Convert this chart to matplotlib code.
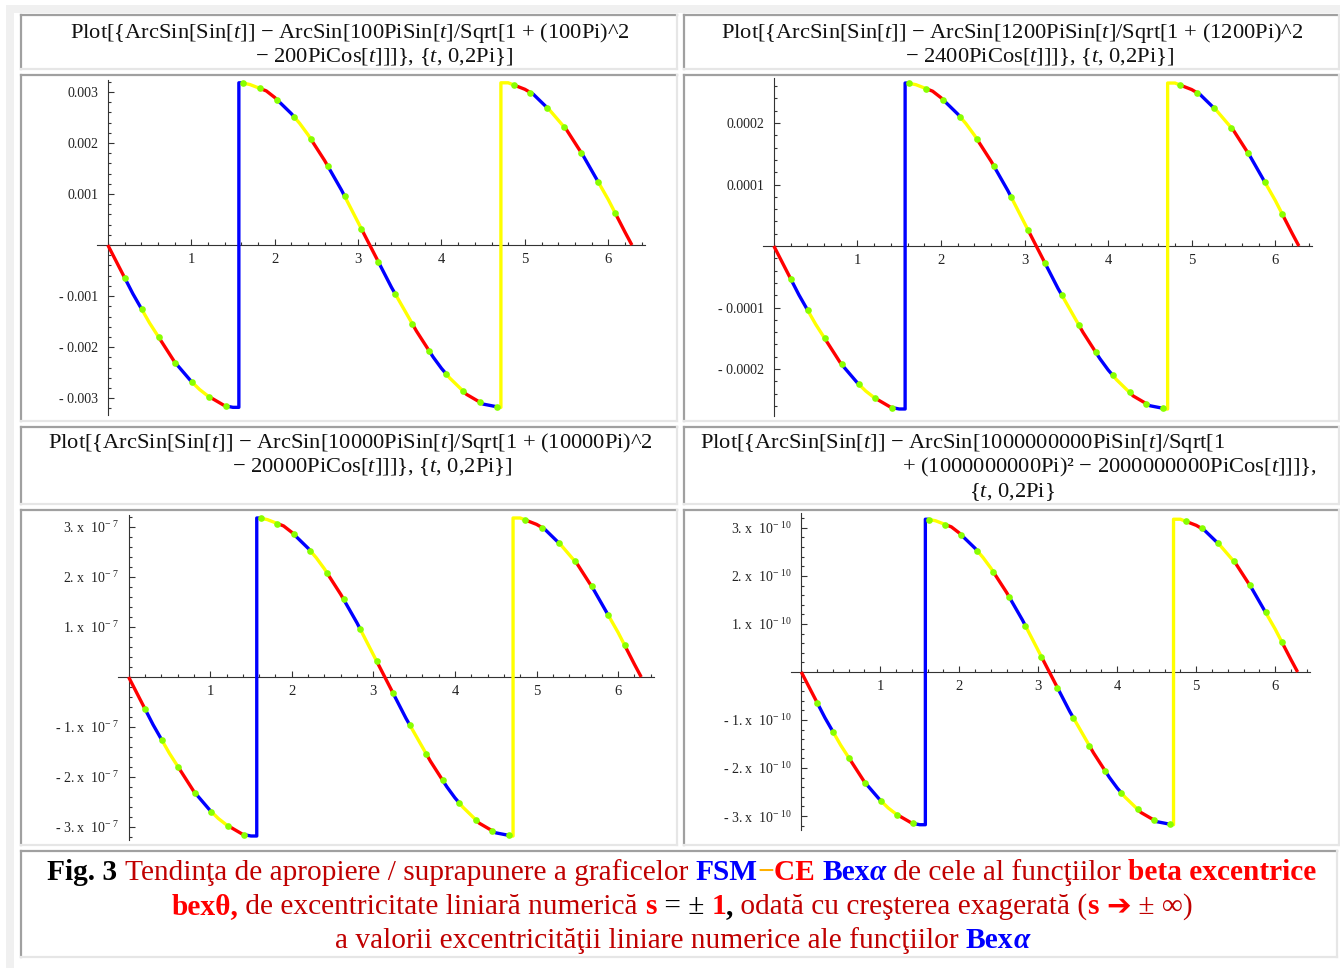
import numpy as np
import matplotlib.pyplot as plt
from matplotlib.patches import Rectangle
from matplotlib.lines import Line2D
from matplotlib.font_manager import FontProperties
from matplotlib.ticker import FixedLocator, FixedFormatter, MultipleLocator

plt.rcParams['mathtext.fontset'] = 'custom'
plt.rcParams['mathtext.rm'] = 'Liberation Serif'
plt.rcParams['mathtext.it'] = 'Liberation Serif:italic'
plt.rcParams['mathtext.bf'] = 'Liberation Serif:bold'
plt.rcParams['mathtext.default'] = 'rm'

# curve (t, value in units of the peak height)
t_vals = [0.0, 0.1, 0.2, 0.3, 0.4, 0.5, 0.6, 0.7, 0.8, 0.9, 1.0, 1.1, 1.2, 1.3, 1.4, 1.5, 1.5708,
          1.5708, 1.6, 1.7, 1.8, 1.9, 2.0, 2.1, 2.2, 2.3, 2.4, 2.5, 2.6, 2.7, 2.8, 2.9, 3.0, 3.1,
          3.2, 3.3, 3.4, 3.5, 3.6, 3.7, 3.8, 3.9, 4.0, 4.1, 4.2, 4.3, 4.4, 4.5, 4.6, 4.7, 4.7124,
          4.7124, 4.8, 4.9, 5.0, 5.1, 5.2, 5.3, 5.4, 5.5, 5.6, 5.7, 5.8, 5.9, 6.0, 6.1, 6.2, 6.2832]
shape = [0.0, -0.10, -0.20, -0.30, -0.39, -0.48, -0.56, -0.64, -0.72, -0.78, -0.84, -0.89, -0.93,
         -0.96, -0.99, -1.00, -1.00,
         1.00, 1.00, 0.99, 0.97, 0.95, 0.91, 0.86, 0.81, 0.75, 0.68, 0.60, 0.52, 0.43, 0.34, 0.24,
         0.14, 0.04, -0.06, -0.16, -0.26, -0.35, -0.44, -0.53, -0.61, -0.69, -0.76, -0.82, -0.87,
         -0.92, -0.95, -0.98, -0.99, -1.00, -1.00,
         1.00, 1.00, 0.98, 0.96, 0.93, 0.88, 0.83, 0.77, 0.71, 0.63, 0.55, 0.46, 0.37, 0.28, 0.18,
         0.08, 0.0]

# peak height of each panel
amplitudes = [0.00318, 0.000265, 3.18e-7, 3.18e-10]

xticks = [1, 2, 3, 4, 5, 6]
xtick_labels = ['1', '2', '3', '4', '5', '6']

yticks = [
    [-0.003, -0.002, -0.001, 0.001, 0.002, 0.003],
    [-0.0002, -0.0001, 0.0001, 0.0002],
    [-3e-7, -2e-7, -1e-7, 1e-7, 2e-7, 3e-7],
    [-3e-10, -2e-10, -1e-10, 1e-10, 2e-10, 3e-10],
]
ytick_labels = [
    ['- 0.003', '- 0.002', '- 0.001', '0.001', '0.002', '0.003'],
    ['- 0.0002', '- 0.0001', '0.0001', '0.0002'],
    ['- 3. x  10$^{-\\ 7}$', '- 2. x  10$^{-\\ 7}$', '- 1. x  10$^{-\\ 7}$',
     '1. x  10$^{-\\ 7}$', '2. x  10$^{-\\ 7}$', '3. x  10$^{-\\ 7}$'],
    ['- 3. x  10$^{-\\ 10}$', '- 2. x  10$^{-\\ 10}$', '- 1. x  10$^{-\\ 10}$',
     '1. x  10$^{-\\ 10}$', '2. x  10$^{-\\ 10}$', '3. x  10$^{-\\ 10}$'],
]

T = '$\\mathit{t}$'
titles = [
    ['Plot[{ArcSin[Sin[' + T + ']] − ArcSin[100PiSin[' + T + ']/Sqrt[1 + (100Pi)^2',
     '− 200PiCos[' + T + ']]]}, {' + T + ', 0,2Pi}]'],
    ['Plot[{ArcSin[Sin[' + T + ']] − ArcSin[1200PiSin[' + T + ']/Sqrt[1 + (1200Pi)^2',
     '− 2400PiCos[' + T + ']]]}, {' + T + ', 0,2Pi}]'],
    ['Plot[{ArcSin[Sin[' + T + ']] − ArcSin[10000PiSin[' + T + ']/Sqrt[1 + (10000Pi)^2',
     '− 20000PiCos[' + T + ']]]}, {' + T + ', 0,2Pi}]'],
    ['Plot[{ArcSin[Sin[' + T + ']] − ArcSin[1000000000PiSin[' + T + ']/Sqrt[1',
     '+ (1000000000Pi)² − 2000000000PiCos[' + T + ']]]},',
     '{' + T + ', 0,2Pi}'],
]

DRED, RED, BLUE, BLACK, ORANGE = '#c00000', '#ff0000', '#0000ff', '#000000', '#ffb000'
caption = [
    [('Fig. 3 ', BLACK, 'bold', 'normal'),
     ('Tendinţa de apropiere / suprapunere a graficelor ', DRED, 'normal', 'normal'),
     ('FSM', BLUE, 'bold', 'normal'), ('−', ORANGE, 'bold', 'normal'),
     ('CE ', RED, 'bold', 'normal'), ('Bex', BLUE, 'bold', 'normal'),
     ('α', BLUE, 'bold', 'italic'),
     (' de cele al funcţiilor ', DRED, 'normal', 'normal'),
     ('beta excentrice', RED, 'bold', 'normal')],
    [('bexθ,', RED, 'bold', 'normal'),
     (' de excentricitate liniară numerică ', DRED, 'normal', 'normal'),
     ('s', RED, 'bold', 'normal'), (' = ± ', BLACK, 'normal', 'normal'),
     ('1', RED, 'bold', 'normal'), (',', BLACK, 'bold', 'normal'),
     (' odată cu creşterea exagerată (', DRED, 'normal', 'normal'),
     ('s ', RED, 'bold', 'normal'), ('➔', RED, 'bold', 'normal'),
     (' ± ∞)', DRED, 'normal', 'normal')],
    [('a valorii excentricităţii liniare numerice ale funcţiilor ', DRED, 'normal', 'normal'),
     ('Bex', BLUE, 'bold', 'normal'), ('α', BLUE, 'bold', 'italic')],
]

# ---------------- layout (pixels of the 1340x968 picture) ----------------
W, H = 1340, 968
fig = plt.figure(figsize=(W / 100, H / 100), dpi=100)
fig.patch.set_facecolor('white')


def fx(x):
    return x / W


def fy(y):
    return 1 - y / H


def band(x0, y0, x1, y1, color):
    fig.add_artist(Rectangle((fx(x0), fy(y1)), fx(x1) - fx(x0), fy(y0) - fy(y1),
                             transform=fig.transFigure, color=color, lw=0, zorder=0))


def cell(x0, y0, x1, y1):
    band(x0, y0, x1, y1, 'white')
    dark, light = '#a0a0a0', '#e6e6e6'
    fig.add_artist(Line2D([fx(x0), fx(x1)], [fy(y0), fy(y0)], color=dark, lw=1.6, transform=fig.transFigure))
    fig.add_artist(Line2D([fx(x0), fx(x0)], [fy(y0), fy(y1)], color=dark, lw=1.6, transform=fig.transFigure))
    fig.add_artist(Line2D([fx(x0), fx(x1)], [fy(y1), fy(y1)], color=light, lw=1.6, transform=fig.transFigure))
    fig.add_artist(Line2D([fx(x1), fx(x1)], [fy(y0), fy(y1)], color=light, lw=1.6, transform=fig.transFigure))


band(6, 5, 14, 968, '#f0f0f0')
band(6, 5, 1340, 13, '#f0f0f0')

title_cells = [(21, 15, 677, 69), (684, 15, 1339, 69), (21, 427, 677, 504), (684, 427, 1339, 504)]
plot_cells = [(21, 75, 677, 421), (684, 75, 1339, 421), (21, 510, 677, 845), (684, 510, 1339, 845)]
for c in title_cells + plot_cells:
    cell(*c)
cell(21, 851, 1337, 957)

# title lines: (centre x, baseline y)
title_pos = [
    [(350, 38), (384, 62)],
    [(1012, 38), (1040, 62)],
    [(350, 448), (372, 472)],
    [(963, 448), (1109, 472), (1012, 497)],
]
for lines, pos in zip(titles, title_pos):
    for s, (x, y) in zip(lines, pos):
        fig.text(fx(x), fy(y), s, ha='center', va='baseline', fontsize=16.2,
                 family='Liberation Serif', color='#111111')

# axes boxes and limits
boxes = [(97, 80, 645, 415), (763, 78, 1312, 416), (118, 515, 654, 840), (791, 513, 1310, 830)]
ylims = [(-0.00333, 0.003235), (-2.764e-4, 2.732e-4), (-3.26e-7, 3.24e-7), (-3.29e-10, 3.31e-10)]
major_steps = [0.001, 0.0001, 1e-7, 1e-10]

n_mesh = 30
mesh_colors = ['#ff0000', '#0000ff', '#ffff00']
t = np.array(t_vals)
for i in range(4):
    x0, y0, x1, y1 = boxes[i]
    ax = fig.add_axes([fx(x0), fy(y1), fx(x1) - fx(x0), fy(y0) - fy(y1)])
    ax.patch.set_visible(False)
    y = np.array(shape) * amplitudes[i]

    edges = np.linspace(t[0], t[-1], n_mesh + 2)
    for k in range(n_mesh + 1):
        a, b = edges[k], edges[k + 1]
        inside = (t > a) & (t < b)
        ts = np.concatenate([[a], t[inside], [b]])
        ys = np.concatenate([[np.interp(a, t, y)], y[inside], [np.interp(b, t, y)]])
        ax.plot(ts, ys, color=mesh_colors[k % 3], lw=2.4, solid_capstyle='butt', zorder=3)
    mt = edges[1:-1]
    ax.plot(mt, np.interp(mt, t, y), 'o', color='#88ff00', ms=4.8, mec='none', zorder=4)

    ax.set_xlim(-0.13, 6.44)
    ax.set_ylim(*ylims[i])
    for side in ['top', 'right']:
        ax.spines[side].set_visible(False)
    for side in ['left', 'bottom']:
        ax.spines[side].set_position(('data', 0))
        ax.spines[side].set_color('#333333')
        ax.spines[side].set_linewidth(0.8)
    ax.xaxis.set_major_locator(FixedLocator(xticks))
    ax.xaxis.set_major_formatter(FixedFormatter(xtick_labels))
    ax.xaxis.set_minor_locator(MultipleLocator(0.2))
    ax.yaxis.set_major_locator(FixedLocator(yticks[i]))
    ax.yaxis.set_major_formatter(FixedFormatter(ytick_labels[i]))
    ax.yaxis.set_minor_locator(MultipleLocator(major_steps[i] / 5))
    ax.tick_params(which='both', direction='in', color='#333333', width=0.8)
    ax.tick_params(which='major', length=4.5)
    ax.tick_params(which='minor', length=2.5)
    ax.tick_params(axis='x', which='major', pad=6, labelsize=10.5)
    ax.tick_params(axis='y', which='major', pad=7, labelsize=10)
    for lab in ax.get_xticklabels() + ax.get_yticklabels():
        lab.set_family('Liberation Serif')
        lab.set_color('#222222')

# caption, drawn piece by piece and centred
renderer = fig.canvas.get_renderer()
cap_base = [880, 914, 948]
cap_size = 21.2
for pieces, yb in zip(caption, cap_base):
    props, widths = [], []
    for s, col, wt, st in pieces:
        fp = FontProperties(family=['Liberation Serif', 'DejaVu Sans'], size=cap_size, weight=wt, style=st)
        w, h, d = renderer.get_text_width_height_descent(s, fp, ismath=False)
        props.append(fp)
        widths.append(w)
    x = 682 - sum(widths) / 2
    for (s, col, wt, st), fp, w in zip(pieces, props, widths):
        fig.text(fx(x), fy(yb), s, color=col, fontproperties=fp, ha='left', va='baseline')
        x += w

fig.savefig('out.png', dpi=100)
